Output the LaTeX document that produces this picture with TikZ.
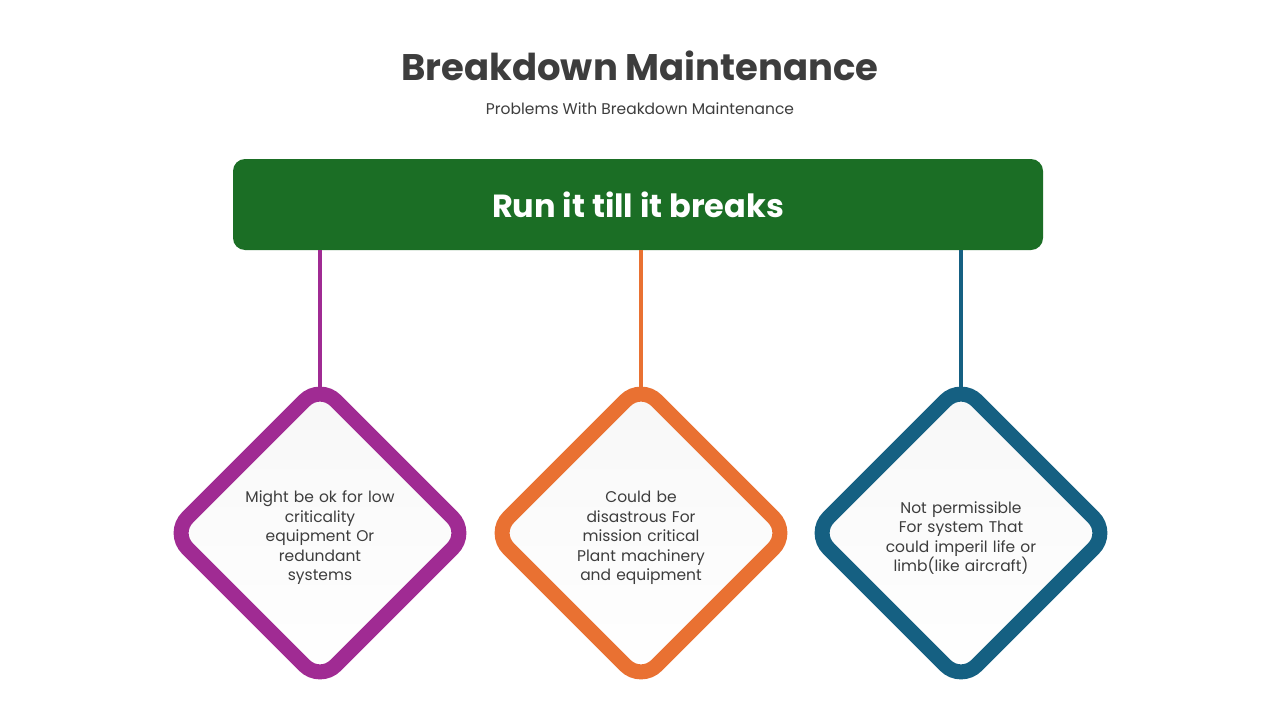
\documentclass[tikz,border=0pt]{standalone}
\usepackage{fontspec}
\setmainfont{Poppins}
\begin{document}
\begin{tikzpicture}[x=1pt,y=-1pt]
\definecolor{gr}{HTML}{1B6E25}
\definecolor{pu}{HTML}{A02B93}
\definecolor{orx}{HTML}{E97132}
\definecolor{bl}{HTML}{156082}
\definecolor{tx}{HTML}{3D3D3D}
\tikzset{dia/.style={line width=15pt,rounded corners=22pt,top color=white!90!gray!60,bottom color=white},
  lbl/.style={text=tx,font=\fontsize{15.5}{19.5}\selectfont,align=center,text width=160pt},
  conn/.style={line width=3.5pt}}
\useasboundingbox[fill=white] (0,0) rectangle (1280,720);
\node[text=tx,font=\fontsize{37}{40}\selectfont\bfseries] (title) at (640,66) {Breakdown Maintenance};
\node[text=tx,font=\fontsize{15.5}{18}\selectfont] (sub) at (640,109) {Problems With Breakdown Maintenance};
\node[fill=gr,rounded corners=12pt,minimum width=810pt,minimum height=91pt,text=white,font=\fontsize{32}{36}\selectfont\bfseries] (top) at (638,204.5) {Run it till it breaks};
\foreach \n/\c/\x/\t in {a/pu/320/{Might be ok for low\\criticality\\equipment Or\\redundant\\systems},
  b/orx/641/{Could be\\disastrous For\\mission critical\\Plant machinery\\and equipment},
  c/bl/961/{Not permissible\\For system That\\could imperil life or\\limb(like aircraft)}}{
  \coordinate (\n t) at (\x,390);
  \draw[conn,\c] (top.south -| \n t) -- (\n t);
  \draw[dia,draw=\c] (\x,385) -- (\x+148,533) -- (\x,681) -- (\x-148,533) -- cycle;
  \node[lbl] (\n) at (\x,538) {\t};
}
\end{tikzpicture}
\end{document}
